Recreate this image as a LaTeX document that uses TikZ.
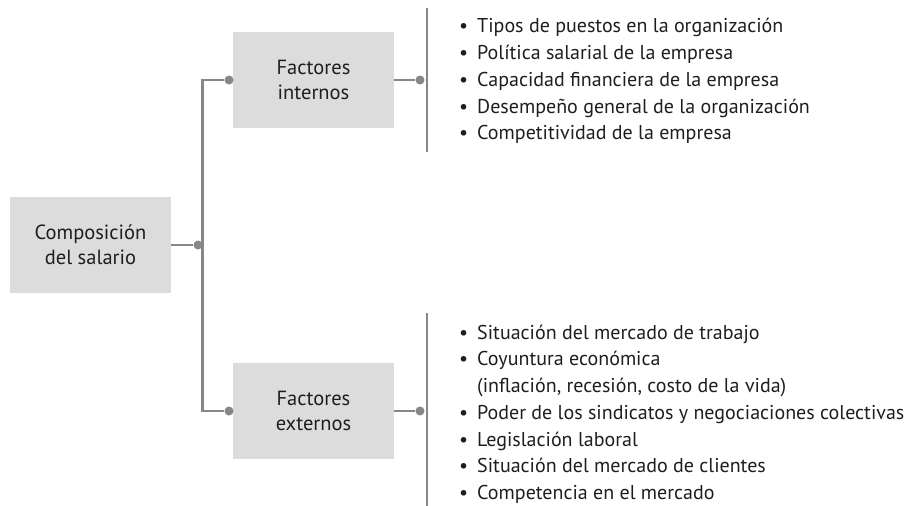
\documentclass[tikz,border=0pt]{standalone}
\usepackage{fontspec}
\setmainfont{PT Sans}
\usepackage{xcolor}
\usepackage{tikz}
\usetikzlibrary{positioning,calc}
\definecolor{boxgray}{RGB}{220,220,220}
\definecolor{linegray}{RGB}{135,135,135}
\definecolor{textdark}{RGB}{30,30,30}

\begin{document}
\begin{tikzpicture}[x=1pt, y=-1pt,
    factor/.style={rectangle, fill=boxgray, minimum width=161pt, minimum height=96pt, align=center, text=textdark, font=\fontsize{20.5}{25}\selectfont},
    conn/.style={draw=linegray, line width=2.6pt},
    dot/.style={circle, fill=linegray, inner sep=0pt, minimum size=9pt},
    items/.style={anchor=west, inner sep=0pt, text=textdark, font=\fontsize{20}{26.7}\selectfont}
]
    \useasboundingbox (0,0) rectangle (906,506);

    % boxes
    \node[factor] (salario) at (90.5,245) {Composición\\del salario};
    \node[factor] (internos) at (313.5,80) {Factores\\internos};
    \node[factor] (externos) at (313.5,411) {Factores\\externos};

    % dots
    \node[dot] (dsal) at (198,245) {};
    \node[dot] (dint) at (229,80) {};
    \node[dot] (dext) at (229,411) {};
    \node[dot] (drint) at (420,80) {};
    \node[dot] (drext) at (420,411) {};

    \coordinate (bustop) at (202.5,80);
    \coordinate (busbot) at (202.5,411);
    \coordinate (rint1) at (427,8);
    \coordinate (rint2) at (427,152);
    \coordinate (rext1) at (427,313);
    \coordinate (rext2) at (427,506);

    % connectors
    \draw[conn] (salario.east) -- (dsal);
    \draw[conn] (dint) -- (bustop) -- (busbot) -- (dext);
    \draw[conn] (internos.east) -- (drint);
    \draw[conn] (externos.east) -- (drext);
    \draw[conn] (rint1) -- (rint2);
    \draw[conn] (rext1) -- (rext2);

    % lists
    \node[items] (listint) at (459,81) {%
      \begin{tabular}{@{}l@{\hspace{9pt}}l@{}}
        • & Tipos de puestos en la organización\\
        • & Política salarial de la empresa\\
        • & Capacidad financiera de la empresa\\
        • & Desempeño general de la organización\\
        • & Competitividad de la empresa
      \end{tabular}};
    \node[items] (listext) at (459,414) {%
      \begin{tabular}{@{}l@{\hspace{9pt}}l@{}}
        • & Situación del mercado de trabajo\\
        • & Coyuntura económica\\
          & (inflación, recesión, costo de la vida)\\
        • & Poder de los sindicatos y negociaciones colectivas\\
        • & Legislación laboral\\
        • & Situación del mercado de clientes\\
        • & Competencia en el mercado
      \end{tabular}};
\end{tikzpicture}
\end{document}
